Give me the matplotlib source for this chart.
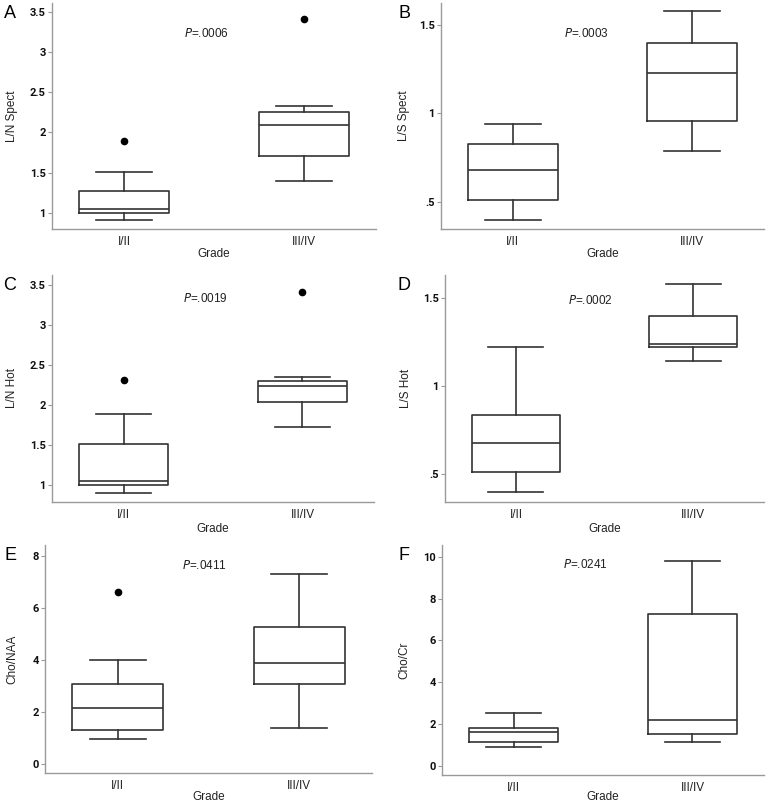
import matplotlib
matplotlib.use("Agg")
import matplotlib.pyplot as plt

# ---------------- data ----------------
groups = ["I/II", "III/IV"]
panel_letters = ["A", "B", "C", "D", "E", "F"]
ylabels = ["L/N Spect", "L/S Spect", "L/N Hot", "L/S Hot", "Cho/NAA", "Cho/Cr"]
pvalues = ["=.0006", "=.0003", "=.0019", "=.0002", "=.0411", "=.0241"]

# five-number summaries per group: [whisker low, Q1, median, Q3, whisker high]
A_low = [0.905, 1.00, 1.042, 1.27, 1.506]
A_high = [1.40, 1.71, 2.095, 2.25, 2.33]
A_out = [[1.89], [3.41]]

B_low = [0.398, 0.508, 0.678, 0.828, 0.94]
B_high = [0.789, 0.959, 1.23, 1.40, 1.581]
B_out = [[], []]

C_low = [0.909, 1.00, 1.055, 1.51, 1.89]
C_high = [1.727, 2.043, 2.233, 2.296, 2.345]
C_out = [[2.31], [3.41]]

D_low = [0.40, 0.511, 0.678, 0.839, 1.221]
D_high = [1.142, 1.221, 1.242, 1.40, 1.582]
D_out = [[], []]

E_low = [0.97, 1.29, 2.15, 3.07, 3.99]
E_high = [1.37, 3.07, 3.88, 5.27, 7.30]
E_out = [[6.60], []]

F_low = [0.90, 1.12, 1.60, 1.82, 2.51]
F_high = [1.14, 1.52, 2.20, 7.26, 9.80]
F_out = [[], []]

yticks = [
    [1, 1.5, 2, 2.5, 3, 3.5],
    [0.5, 1, 1.5],
    [1, 1.5, 2, 2.5, 3, 3.5],
    [0.5, 1, 1.5],
    [0, 2, 4, 6, 8],
    [0, 2, 4, 6, 8, 10],
]
ytick_labels = [
    ["1", "1.5", "2", "2.5", "3", "3.5"],
    [".5", "1", "1.5"],
    ["1", "1.5", "2", "2.5", "3", "3.5"],
    [".5", "1", "1.5"],
    ["0", "2", "4", "6", "8"],
    ["0", "2", "4", "6", "8", "10"],
]
p_y = [3.235, 1.453, 3.326, 1.49, 7.65, 9.62]

# ---------------- layout ----------------
W, H = 766, 806
ylims = [(0.797, 3.61), (0.345, 1.625), (0.793, 3.62), (0.343, 1.632), (-0.35, 8.42), (-0.446, 10.57)]
# (left, right, top, bottom) in pixels
boxes_px = [
    (52, 376, 3, 229),
    (441, 764, 3, 229),
    (52, 374, 275, 502),
    (445, 764, 275, 502),
    (45, 372, 545, 773),
    (442, 764, 545, 775),
]
ylabel_off = [-40, -37, -40, -39, -33, -38]
xlabel_off = [25, 25, 27, 27, 24, 22]
p_x = [0.46, 0.41, 0.46, 0.42, 0.48, 0.40]

fig = plt.figure(figsize=(W / 100, H / 100), dpi=100)
fig.patch.set_facecolor("white")

SANS = ["Liberation Sans", "DejaVu Sans"]
TICKF = ["Roboto", "DejaVu Sans"]
box_col = "#333333"
spine_col = "#9a9a9a"
txt_col = "#222222"

summaries = [(A_low, A_high, A_out), (B_low, B_high, B_out), (C_low, C_high, C_out),
             (D_low, D_high, D_out), (E_low, E_high, E_out), (F_low, F_high, F_out)]

for i, (lo, hi, outs) in enumerate(summaries):
    l, r, t, b = boxes_px[i]
    ax = fig.add_axes([l / W, (H - b) / H, (r - l) / W, (b - t) / H])
    stats = []
    for g, s, o in zip(groups, [lo, hi], outs):
        stats.append(dict(label=g, whislo=s[0], q1=s[1], med=s[2], q3=s[3], whishi=s[4], fliers=o))
    ax.bxp(stats, positions=[0, 1], widths=0.5, capwidths=0.31, showfliers=True,
           boxprops=dict(color=box_col, linewidth=1.2),
           whiskerprops=dict(color=box_col, linewidth=1.2),
           capprops=dict(color=box_col, linewidth=1.2),
           medianprops=dict(color=box_col, linewidth=1.2),
           flierprops=dict(marker="o", markersize=4.5, markerfacecolor="black",
                           markeredgecolor="black"))
    ax.set_xlim(-0.40, 1.40)
    ax.set_ylim(*ylims[i])
    for s in ["top", "right"]:
        ax.spines[s].set_visible(False)
    for s in ["left", "bottom"]:
        ax.spines[s].set_color(spine_col)
        ax.spines[s].set_linewidth(1.0)
    ax.set_yticks(yticks[i])
    ax.set_yticklabels(ytick_labels[i], fontfamily=TICKF, fontweight="bold", fontsize=8, color="#111111")
    ax.tick_params(axis="y", length=3, width=0.8, color=spine_col, pad=1.5)
    ax.set_xticks([0, 1])
    ax.set_xticklabels(groups, fontfamily=SANS, fontsize=8.5, color=txt_col)
    ax.tick_params(axis="x", length=0, pad=5)
    ax.set_xlabel("Grade", fontfamily=SANS, fontsize=8.5, color=txt_col)
    ax.xaxis.set_label_coords(0.5, -xlabel_off[i] / (b - t), transform=ax.transAxes)
    ax.set_ylabel(ylabels[i], fontfamily=SANS, fontsize=8.5, color=txt_col)
    ax.yaxis.set_label_coords(ylabel_off[i] / (r - l), 0.5)
    ax.yaxis.label.set_verticalalignment("center")
    ax.xaxis.label.set_verticalalignment("center")
    ax.text(p_x[i], p_y[i], r"$\it{P}$" + pvalues[i], fontfamily=SANS, fontsize=8.5,
            ha="center", va="center", color=txt_col)
    # panel letter
    lx = 10 if l < 300 else 404
    fig.text(lx / W, 1 - (t + 11) / H, panel_letters[i], fontfamily=SANS, fontsize=13,
             ha="center", va="center")

fig.savefig("out.png", dpi=100, facecolor="white")
